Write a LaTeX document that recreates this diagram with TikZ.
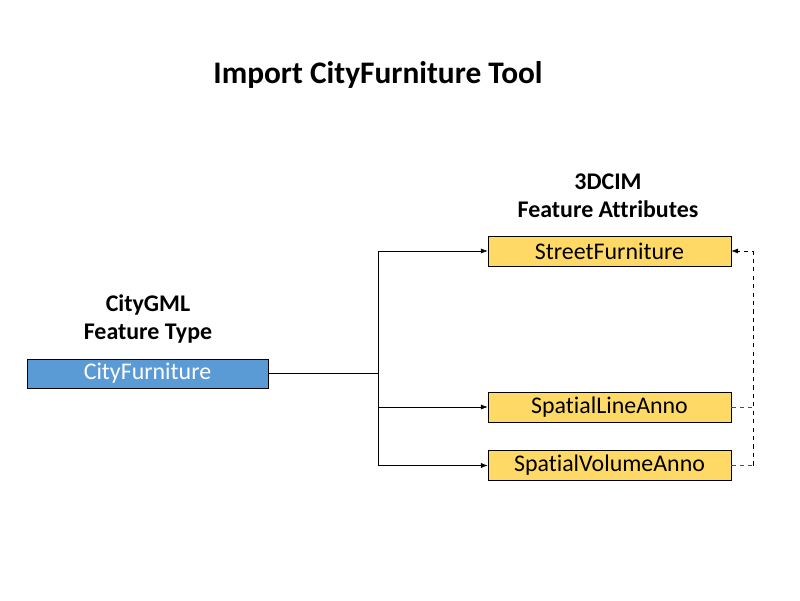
\documentclass[tikz,border=0pt]{standalone}
\usepackage{fontspec}
\setmainfont[Ligatures=NoCommon]{Carlito}
\usetikzlibrary{arrows.meta}
\definecolor{gmlblue}{HTML}{5B9BD5}
\definecolor{cimyellow}{HTML}{FFD966}
\tikzset{
	gmlbox/.style={draw, fill=gmlblue, text=white, minimum width=6.025cm, minimum height=0.725cm, inner sep=0pt, font=\fontsize{17}{20}\selectfont},
	cimbox/.style={draw, fill=cimyellow, minimum width=6.075cm, minimum height=0.75cm, inner sep=0pt, font=\fontsize{17}{20}\selectfont},
	heading/.style={align=center, font=\bfseries\fontsize{17}{20}\selectfont},
}

\begin{document}
\begin{tikzpicture}[x=0.025cm, y=-0.025cm]
		\useasboundingbox (0,0) rectangle (800,600);
		
		\node[font=\bfseries\fontsize{22.3}{26}\selectfont] (title) at (378, 75) {Import CityFurniture Tool};
		\node[heading] (gmlhead) at (148, 319) {CityGML\\Feature Type};
		\node[heading] (cimhead) at (608, 196) {3DCIM\\Feature Attributes};
		
		\node[gmlbox] (CF) at (147.5, 373.5) {CityFurniture};
		\node[cimbox] (SF) at (609.5, 251) {StreetFurniture};
		\node[cimbox] (SLA) at (609.5, 407) {SpatialLineAnno};
		\node[cimbox] (SVA) at (609.5, 465.5) {SpatialVolumeAnno};
		
		\coordinate (T) at (378, 373.5);
		\coordinate (R) at (753, 465.5);
		
		\draw (CF.east) -- (T);
		\foreach \t in {SF, SLA, SVA} {
			\draw[-Latex] (T) |- (\t.west);
		}
		
		\draw[dashed, gray!60!black] (SLA.east) -- (SLA.east -| R);
		\draw[dashed, gray!60!black] (SVA.east) -- (R);
		\draw[dashed, -Latex] (R) |- (SF.east);
	
	\end{tikzpicture}
\end{document}
